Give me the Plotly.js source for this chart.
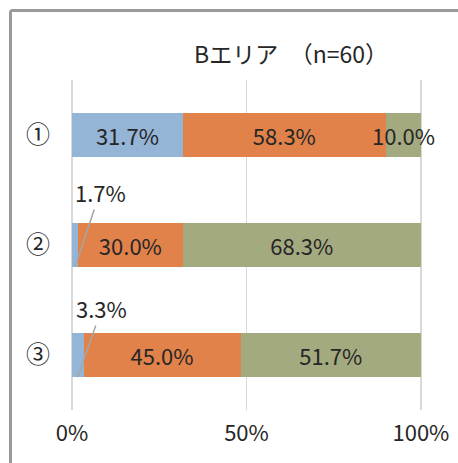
<!DOCTYPE html>
<html><head><meta charset="utf-8">
<script src="https://cdn.plot.ly/plotly-3.0.1.min.js"></script>
<style>html,body{margin:0;padding:0;background:#fff}#chart{width:458px;height:463px}</style>
</head><body><div id="chart"></div>
<script>
const categories = ['①', '②', '③'];
const seriesA = [31.7, 1.7, 3.3];
const seriesB = [58.3, 30.0, 45.0];
const seriesC = [10.0, 68.3, 51.7];
const xTickVals = [0, 50, 100];
const xTickText = ['0%', '50%', '100%'];
const titleText = 'Bエリア　（n=60）';

const colors = ['#95b5d6', '#e0824a', '#a4aa7f'];
const FONT = '"Noto Sans CJK JP", sans-serif';
const fmt = v => v.toFixed(1) + '%';
const smallLimit = 5;

function trace(vals, color) {
  return {
    type: 'bar', orientation: 'h', y: categories, x: vals,
    marker: {color: color, line: {width: 0}},
    text: vals.map(v => v >= smallLimit ? fmt(v) : ''),
    textposition: 'inside', insidetextanchor: 'middle', textangle: 0,
    constraintext: 'none', cliponaxis: false,
    textfont: {family: FONT, size: 22, color: '#262626'},
    hoverinfo: 'skip'
  };
}
const data = [trace(seriesA, colors[0]), trace(seriesB, colors[1]), trace(seriesC, colors[2])];

// leader-line labels for small segments
const leaderOffsets = {1: [25, -75], 2: [24, -69]};
const annotations = [];
seriesA.forEach((v, i) => {
  if (v < smallLimit) {
    annotations.push({
      x: v / 2, y: i + 0.2, xref: 'x', yref: 'y',
      text: fmt(v), showarrow: true, arrowhead: 0, arrowwidth: 1.5,
      arrowcolor: '#a6a6a6', ax: leaderOffsets[i][0], ay: leaderOffsets[i][1],
      font: {family: FONT, size: 22, color: '#262626'}
    });
  }
});

// plot area: 0% at x=72, 100% at x=421, rows between y=80 and y=410
const PL = 70, PR = 423, PT = 80, PB = 410;
const pad = 0.6;
const layout = {
  width: 458, height: 463,
  margin: {l: PL, r: 458 - PR, t: PT, b: 463 - PB},
  paper_bgcolor: '#fff', plot_bgcolor: '#fff',
  barmode: 'stack', bargap: 0.6,
  showlegend: false,
  font: {family: FONT, color: '#262626'},
  title: {text: titleText, x: (291 - PL) / (PR - PL), xref: 'paper', xanchor: 'center',
          y: 1 - 55 / 463, yanchor: 'middle', yref: 'container',
          font: {family: FONT, size: 23, color: '#262626'}},
  xaxis: {range: [-pad, 100 + pad], tickvals: xTickVals, ticktext: xTickText,
          showgrid: true, gridcolor: '#d9d9d9', gridwidth: 1.5, zeroline: false,
          showline: false, ticks: '', tickfont: {family: FONT, size: 22, color: '#262626'},
          ticklabelstandoff: 8, fixedrange: true, automargin: false},
  yaxis: {type: 'category', categoryorder: 'array', categoryarray: categories,
          range: [2.5, -0.5], autorange: false, showgrid: false, zeroline: false, showline: false,
          ticks: '', tickfont: {family: FONT, size: 24, color: '#262626'},
          ticklabelstandoff: 19, fixedrange: true, automargin: false},
  annotations: annotations,
  shapes: [
    {type: 'line', xref: 'paper', yref: 'paper', x0: (10.5 - PL) / (PR - PL), x1: 2, y0: (PB - 10.5) / (PB - PT), y1: (PB - 10.5) / (PB - PT),
     line: {color: '#9a9a9a', width: 3}},
    {type: 'line', xref: 'paper', yref: 'paper', x0: (10.5 - PL) / (PR - PL), x1: (10.5 - PL) / (PR - PL), y0: (PB - 10.5) / (PB - PT), y1: -2,
     line: {color: '#9a9a9a', width: 3}}
  ]
};
Plotly.newPlot('chart', data, layout, {staticPlot: true, displayModeBar: false});
</script></body></html>
